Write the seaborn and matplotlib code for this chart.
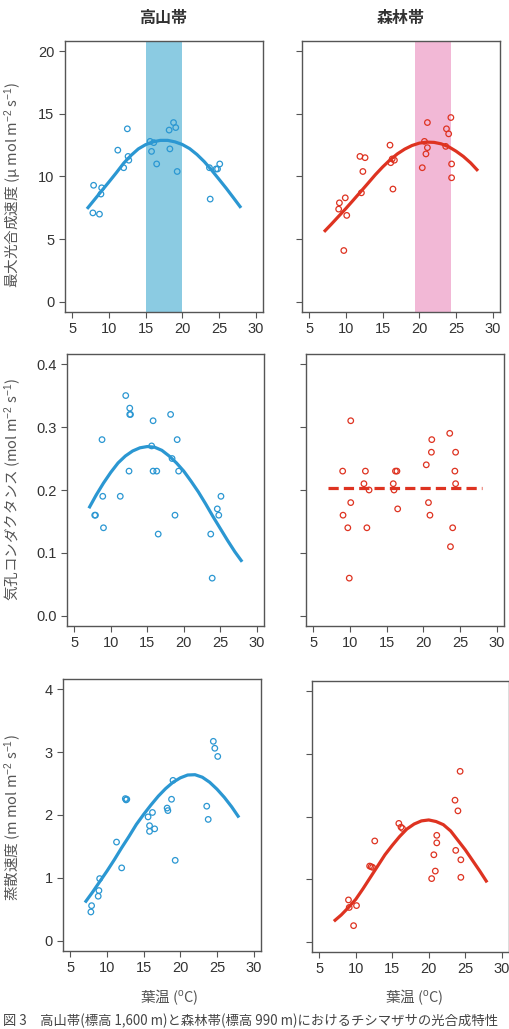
import matplotlib
matplotlib.use("Agg")
import matplotlib.pyplot as plt
import seaborn as sns

# leaf temperature grid for the fitted curves
temp_grid = [7, 8, 9, 10, 11, 12, 13, 14, 15, 16, 17, 18, 19, 20, 21, 22, 23, 24, 25, 26, 27, 28]

# --- max photosynthetic rate ---
amax_alp_t = [7.9, 7.8, 8.7, 9.0, 8.9, 12.5, 11.2, 12.0, 12.6, 12.7, 15.6, 15.8, 16.1, 16.5,
              18.2, 18.8, 19.1, 18.3, 19.3, 23.7, 23.8, 24.6, 24.8, 25.1]
amax_alp = [9.3, 7.1, 7.0, 9.1, 8.6, 13.8, 12.1, 10.7, 11.6, 11.3, 12.8, 12.0, 12.7, 11.0,
            13.7, 14.3, 13.9, 12.2, 10.4, 10.7, 8.2, 10.6, 10.6, 11.0]
amax_alp_fit = [7.42, 8.14, 8.86, 9.57, 10.3, 11.06, 11.68, 12.2, 12.54, 12.76, 12.88,
                12.88, 12.76, 12.55, 12.22, 11.75, 11.18, 10.5, 9.78, 9.05, 8.28, 7.5]

amax_for_t = [9.1, 9.0, 9.9, 10.1, 9.7, 11.9, 12.6, 12.3, 12.1, 16.0, 16.1, 16.3, 16.6, 16.4,
              20.4, 20.7, 20.9, 21.1, 21.1, 23.7, 24.0, 24.3, 24.4, 24.4, 23.6]
amax_for = [7.9, 7.4, 8.3, 6.9, 4.1, 11.6, 11.5, 10.4, 8.7, 12.5, 11.1, 11.4, 11.3, 9.0,
            10.7, 12.8, 11.8, 12.3, 14.3, 13.8, 13.4, 14.7, 11.0, 9.9, 12.4]
amax_for_fit = [5.59, 6.2, 6.83, 7.46, 8.12, 8.79, 9.46, 10.14, 10.76, 11.32, 11.8,
                12.18, 12.47, 12.66, 12.74, 12.72, 12.6, 12.37, 12.02, 11.6, 11.08, 10.45]

# --- stomatal conductance ---
gs_alp_t = [12.05, 12.6, 12.6, 12.7, 8.8, 15.8, 18.2, 19.1, 15.6, 18.4, 12.5, 15.8, 16.3,
            19.3, 8.9, 11.3, 25.1, 7.8, 7.9, 9.0, 18.8, 16.5, 24.6, 24.8, 23.7, 23.9]
gs_alp = [0.35, 0.33, 0.32, 0.32, 0.28, 0.31, 0.32, 0.28, 0.27, 0.25, 0.23, 0.23, 0.23,
          0.23, 0.19, 0.19, 0.19, 0.16, 0.16, 0.14, 0.16, 0.13, 0.17, 0.16, 0.13, 0.06]
gs_alp_fit = [0.171, 0.192, 0.211, 0.228, 0.243, 0.254, 0.262, 0.267, 0.269, 0.268, 0.263,
              0.254, 0.243, 0.230, 0.214, 0.197, 0.178, 0.158, 0.139, 0.120, 0.102, 0.086]

gs_for_t = [10.1, 9.0, 12.1, 16.2, 16.4, 21.15, 21.1, 23.6, 24.4, 20.4, 24.3, 24.4, 11.9,
            15.9, 12.6, 16.0, 10.1, 20.7, 9.05, 20.9, 16.5, 9.7, 12.3, 24.0, 23.7, 9.9]
gs_for = [0.31, 0.23, 0.23, 0.23, 0.23, 0.28, 0.26, 0.29, 0.26, 0.24, 0.23, 0.21, 0.21,
          0.21, 0.20, 0.20, 0.18, 0.18, 0.16, 0.16, 0.17, 0.14, 0.14, 0.14, 0.11, 0.06]
gs_for_mean = 0.203

# --- transpiration rate ---
e_alp_t = [24.5, 24.7, 25.1, 12.5, 12.6, 12.7, 19.0, 18.8, 18.2, 18.3, 16.2, 15.6, 15.8,
           15.8, 16.5, 23.6, 23.8, 19.3, 11.3, 12.0, 9.0, 8.9, 8.8, 7.9, 7.8]
e_alp = [3.17, 3.06, 2.93, 2.26, 2.24, 2.25, 2.55, 2.25, 2.11, 2.07, 2.04, 1.97, 1.83,
         1.74, 1.78, 2.14, 1.93, 1.28, 1.57, 1.16, 0.99, 0.80, 0.71, 0.56, 0.46]
e_alp_fit = [0.61, 0.77, 0.94, 1.11, 1.29, 1.48, 1.66, 1.85, 2.01, 2.16, 2.3, 2.42, 2.52,
             2.59, 2.635, 2.64, 2.6, 2.52, 2.41, 2.28, 2.13, 1.96]

e_for_t = [24.3, 23.6, 24.0, 15.9, 16.2, 16.4, 12.6, 21.1, 21.1, 20.7, 20.9, 20.4, 23.7,
           24.4, 24.4, 11.9, 12.1, 12.3, 9.0, 9.1, 10.1, 9.7]
e_for = [2.72, 2.26, 2.09, 1.89, 1.83, 1.81, 1.61, 1.70, 1.58, 1.39, 1.13, 1.01, 1.46,
         1.31, 1.03, 1.21, 1.20, 1.19, 0.67, 0.55, 0.58, 0.26]
e_for_fit = [0.33, 0.43, 0.55, 0.68, 0.85, 1.03, 1.21, 1.39, 1.54, 1.68, 1.8, 1.88, 1.93,
             1.945, 1.92, 1.87, 1.77, 1.62, 1.47, 1.3, 1.13, 0.95]

# optimum temperature bands
alp_band = (15.0, 20.0)
for_band = (19.4, 24.3)

zones = ["高山帯", "森林帯"]
ylabels = ["最大光合成速度 (μ mol m$^{-2}$ s$^{-1}$)",
           "気孔コンダクタンス (mol m$^{-2}$ s$^{-1}$)",
           "蒸散速度 (m mol m$^{-2}$ s$^{-1}$)"]
xlabel = "葉温 ($^{\\mathrm{o}}$C)"
caption = "図 3　高山帯(標高 1,600 m)と森林帯(標高 990 m)におけるチシマザサの光合成特性"

BLUE = "#2b97d2"
RED = "#de3321"
BLUE_BAND = "#8bcbe2"
PINK_BAND = "#f2b8d6"

sns.set_style("ticks")
plt.rcParams["font.family"] = ["Liberation Sans", "Noto Sans CJK JP", "DejaVu Sans"]
plt.rcParams["mathtext.fontset"] = "custom"
plt.rcParams["mathtext.rm"] = "Liberation Sans"
plt.rcParams["mathtext.it"] = "Liberation Sans"

W, H = 510, 1029
fig = plt.figure(figsize=(W / 100, H / 100), dpi=100)


def add_ax(left, top, right, bottom):
    return fig.add_axes([left / W, 1 - bottom / H, (right - left) / W, (bottom - top) / H])


def style_ax(ax, ylim, yticks, ylabels_on, yfmt):
    ax.set_xlim(4, 31)
    ax.set_ylim(ylim)
    ax.set_xticks([5, 10, 15, 20, 25, 30])
    ax.set_yticks(yticks)
    if ylabels_on:
        ax.set_yticklabels([yfmt.format(v) for v in yticks])
    else:
        ax.set_yticklabels([])
    ax.tick_params(direction="out", length=4.5, width=0.8, color="#555555",
                   labelsize=10.5, labelcolor="#333333", pad=3)
    for s in ax.spines.values():
        s.set_visible(True)
        s.set_color("#555555")
        s.set_linewidth(1.0)
    ax.set_xlabel("")
    ax.set_ylabel("")


def points(ax, x, y, color):
    sns.scatterplot(x=x, y=y, ax=ax, s=16, facecolor="none", edgecolor=color,
                    linewidth=0.9, zorder=3)


def curve(ax, y, color):
    sns.lineplot(x=temp_grid, y=y, ax=ax, color=color, linewidth=2.3, zorder=4,
                 solid_joinstyle="round", solid_capstyle="butt")


ax1 = add_ax(65, 41, 263, 312)
ax2 = add_ax(302, 41, 500, 312)
ax3 = add_ax(67, 354, 264, 626)
ax4 = add_ax(306, 354, 504, 626)
ax5 = add_ax(63, 679, 261, 951)
ax6 = add_ax(312, 681, 509, 952)

# row 1
ax1.axvspan(*alp_band, color=BLUE_BAND, lw=0, zorder=1)
points(ax1, amax_alp_t, amax_alp, BLUE)
curve(ax1, amax_alp_fit, BLUE)
ax2.axvspan(*for_band, color=PINK_BAND, lw=0, zorder=1)
points(ax2, amax_for_t, amax_for, RED)
curve(ax2, amax_for_fit, RED)
style_ax(ax1, (-0.8, 20.8), [0, 5, 10, 15, 20], True, "{:g}")
style_ax(ax2, (-0.8, 20.8), [0, 5, 10, 15, 20], False, "{:g}")

# row 2
points(ax3, gs_alp_t, gs_alp, BLUE)
curve(ax3, gs_alp_fit, BLUE)
points(ax4, gs_for_t, gs_for, RED)
sns.lineplot(x=[temp_grid[0], temp_grid[-1]], y=[gs_for_mean, gs_for_mean], ax=ax4,
             color=RED, linewidth=2.3, linestyle=(0, (3.2, 1.6)), zorder=4)
style_ax(ax3, (-0.016, 0.416), [0, 0.1, 0.2, 0.3, 0.4], True, "{:.1f}")
style_ax(ax4, (-0.016, 0.416), [0, 0.1, 0.2, 0.3, 0.4], False, "{:.1f}")

# row 3
points(ax5, e_alp_t, e_alp, BLUE)
curve(ax5, e_alp_fit, BLUE)
points(ax6, e_for_t, e_for, RED)
curve(ax6, e_for_fit, RED)
style_ax(ax5, (-0.16, 4.16), [0, 1, 2, 3, 4], True, "{:g}")
style_ax(ax6, (-0.16, 4.16), [0, 1, 2, 3, 4], False, "{:g}")

cjk = "Noto Sans CJK JP"
fig.text(163 / W, 1 - 18 / H, zones[0], ha="center", va="center", fontsize=11.5,
         fontweight="bold", color="#333333", family=cjk)
fig.text(401 / W, 1 - 18 / H, zones[1], ha="center", va="center", fontsize=11.5,
         fontweight="bold", color="#333333", family=cjk)

for yc, lab in zip([185, 490, 818], ylabels):
    fig.text(13 / W, 1 - yc / H, lab, rotation=90, ha="center", va="center",
             fontsize=10.5, color="#555555", family=cjk)

fig.text(169 / W, 1 - 997 / H, xlabel, ha="center", va="center", fontsize=10.5,
         color="#555555", family=cjk)
fig.text(414 / W, 1 - 997 / H, xlabel, ha="center", va="center", fontsize=10.5,
         color="#555555", family=cjk)

fig.text(3 / W, 1 - 1021 / H, caption, ha="left", va="center", fontsize=9.6,
         color="#444444", family=cjk)

fig.savefig("out.png", dpi=100)
